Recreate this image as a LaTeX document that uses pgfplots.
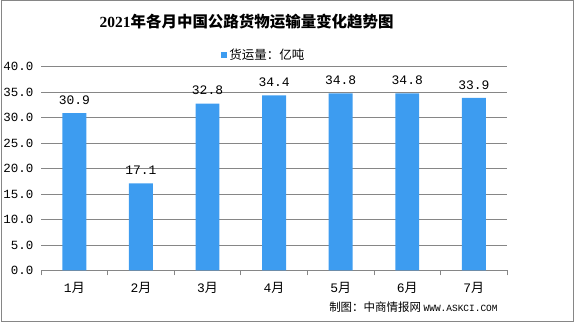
\documentclass[border=0pt]{standalone}
\usepackage{fontspec}
\setmainfont{Noto Sans CJK SC}
\newfontfamily\mono{Liberation Mono}
\newfontfamily\serifnum{Liberation Serif}
\usepackage{pgfplots}
\pgfplotsset{compat=1.18}
\definecolor{barblue}{RGB}{61,156,240}
\definecolor{gridgray}{RGB}{134,134,134}
\begin{document}
\begin{tikzpicture}
\path (0pt,0pt) rectangle (574pt,-323pt);
\draw[gridgray, line width=1pt] (0.5pt,-0.5pt) rectangle (573.5pt,-322.5pt);
\begin{axis}[
  at={(40pt,-271pt)}, anchor=south west,
  scale only axis, width=467pt, height=204pt,
  xmin=0.5, xmax=7.5, ymin=0, ymax=40,
  ytick={0,5,...,40},
  ymajorgrids, grid style={gridgray, line width=0.8pt},
  axis line style={draw=none},
  ytick style={draw=none},
  xtick={1,...,7},
  xticklabels={{\mono 1}月,{\mono 2}月,{\mono 3}月,{\mono 4}月,{\mono 5}月,{\mono 6}月,{\mono 7}月},
  major x tick style={draw=none},
  minor xtick={0.5,1.5,...,7.5},
  minor x tick style={gridgray, line width=0.8pt},
  minor tick length=5pt,
  tick align=outside,
  xtick pos=bottom, ytick pos=left,
  yticklabel style={font=\mono\fontsize{12.5}{12.5}\selectfont},
  y tick label style={/pgf/number format/.cd, fixed, fixed zerofill, precision=1, assume math mode=true},
  xticklabel style={font=\fontsize{13}{13}\selectfont, yshift=-4pt},
  legend style={at={(0.478,1.06)}, anchor=center, draw=none, fill=none, font=\fontsize{12.5}{12.5}\selectfont, inner sep=0pt},
  ybar, bar width=24pt,
  legend image code/.code={\path[fill=barblue, draw=none] (0pt,-3pt) rectangle (6pt,3pt);},
  nodes near coords,
  every node near coord/.append style={font=\mono\fontsize{13}{13}\selectfont, text=black, yshift=5pt},
  nodes near coords style={/pgf/number format/.cd, fixed, fixed zerofill, precision=1, assume math mode=true},
]
\addplot[fill=barblue, draw=none] coordinates {(1,30.9) (2,17.1) (3,32.8) (4,34.4) (5,34.8) (6,34.8) (7,33.9)};
\addlegendentry{货运量：亿吨}
\end{axis}
\node[font=\bfseries\fontsize{15.5}{15.5}\selectfont] at (246pt,-22pt) {{\serifnum\bfseries 2021}年各月中国公路货物运输量变化趋势图};
\node[anchor=east, font=\fontsize{11.5}{11.5}\selectfont] at (501pt,-308pt) {制图：中商情报网 {\mono\fontsize{9.5}{9.5}\selectfont WWW.ASKCI.COM}};
\end{tikzpicture}
\end{document}
